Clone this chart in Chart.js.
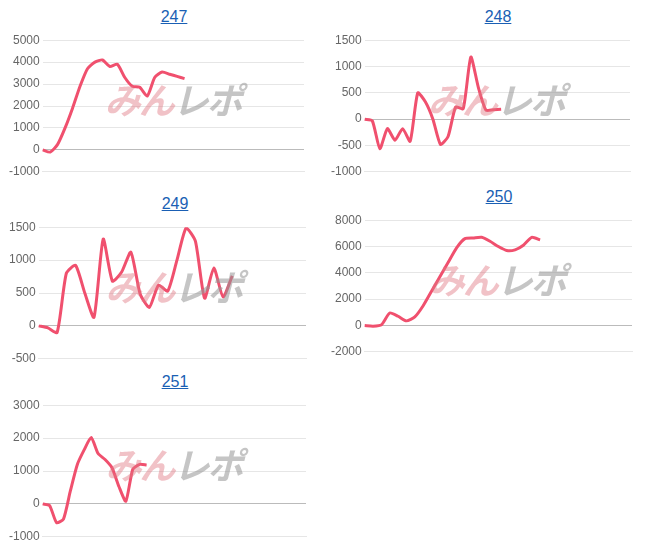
<!DOCTYPE html>
<html>
<head>
<meta charset="utf-8">
<script src="https://cdn.jsdelivr.net/npm/chart.js@4"></script>
<style>
  body { margin: 0; background: #fff; font-family: "Liberation Sans", Arial, sans-serif; }
  .cell { position: absolute; }
  .cell a { position: absolute; left: 40px; right: 0; text-align: center; color: #1a5fb4; font-size: 16px; text-decoration: underline; }
  .cell canvas { position: absolute; left: 0; }
  .wm { position: absolute; font: italic bold 36px "Noto Sans CJK JP"; letter-spacing: -2px; pointer-events: none; }
  .wm .a { color: rgba(225,120,130,0.45); }
  .wm .b { color: rgba(150,150,150,0.55); }
</style>
</head>
<body>
<script>
// machine numbers
const titles = ['247', '248', '249', '250', '251'];
// per-chart number of x slots
const slotCounts = [36, 36, 30, 33, 39];
// series values
const data247 = [0, -100, 250, 1000, 1900, 2900, 3700, 4000, 4100, 3800, 3900, 3300, 2900, 2850, 2450, 3300, 3550, 3450, 3350, 3250];
const data248 = [0, -30, -560, -180, -400, -180, -420, 500, 330, 0, -480, -330, 230, 200, 1180, 600, 170, 180, 190];
const data249 = [0, -30, -100, 800, 920, 500, 130, 1320, 680, 820, 1120, 490, 280, 620, 530, 1000, 1490, 1290, 420, 880, 440, 760];
const data250 = [0, -50, 50, 950, 700, 350, 650, 1500, 2600, 3700, 4800, 5900, 6600, 6650, 6700, 6400, 6000, 5700, 5750, 6100, 6700, 6500];
const data251 = [0, -50, -570, -460, 400, 1200, 1650, 2020, 1530, 1350, 1100, 530, 80, 1050, 1200, 1180];
// y axis ranges: [min, max, step]
const yRanges = [[-1000, 5000, 1000], [-1000, 1500, 500], [-500, 1500, 500], [-2000, 8000, 2000], [-1000, 3000, 1000]];

const series = [data247, data248, data249, data250, data251];
// cell boxes: left, top, width, canvas height
const cells = [[0, 8, 308, 152], [322, 8, 312, 152], [0, 195, 310, 152], [322, 188, 314, 152], [0, 373, 310, 152]];

cells.forEach(([left, top, w, h], i) => {
  const cell = document.createElement('div');
  cell.className = 'cell';
  cell.style.left = left + 'px';
  cell.style.top = top + 'px';
  cell.style.width = w + 'px';
  cell.style.height = (h + 24) + 'px';
  cell.innerHTML = `<a href="#">${titles[i]}</a><canvas width="${w}" height="${h}" style="top:22px;width:${w}px;height:${h}px"></canvas>
    <div class="wm" style="left:${w * 0.34}px;top:${h * 0.42}px"><span class="a">みん</span><span class="b">レポ</span></div>`;
  document.body.appendChild(cell);

  const [min, max, step] = yRanges[i];
  new Chart(cell.querySelector('canvas'), {
    type: 'line',
    data: {
      labels: Array(slotCounts[i]).fill(''),
      datasets: [{
        data: series[i],
        borderColor: 'rgb(240,80,110)',
        borderWidth: 3,
        pointRadius: 0,
        tension: 0.2,
        fill: false
      }]
    },
    options: {
      responsive: false,
      animation: false,
      layout: { padding: { top: 6, right: 4, left: 6 } },
      plugins: { legend: { display: false }, tooltip: { enabled: false } },
      scales: {
        x: {
          ticks: { display: false },
          grid: { display: false },
          border: { color: '#e6e6e6' }
        },
        y: {
          min, max,
          ticks: { stepSize: step, color: '#666', font: { size: 12 }, callback: v => String(v) },
          grid: {
            color: ctx => ctx.tick && ctx.tick.value === 0 ? '#bbb' : '#e6e6e6',
            drawTicks: false
          },
          border: { display: false }
        }
      }
    }
  });
});
</script>
</body>
</html>
